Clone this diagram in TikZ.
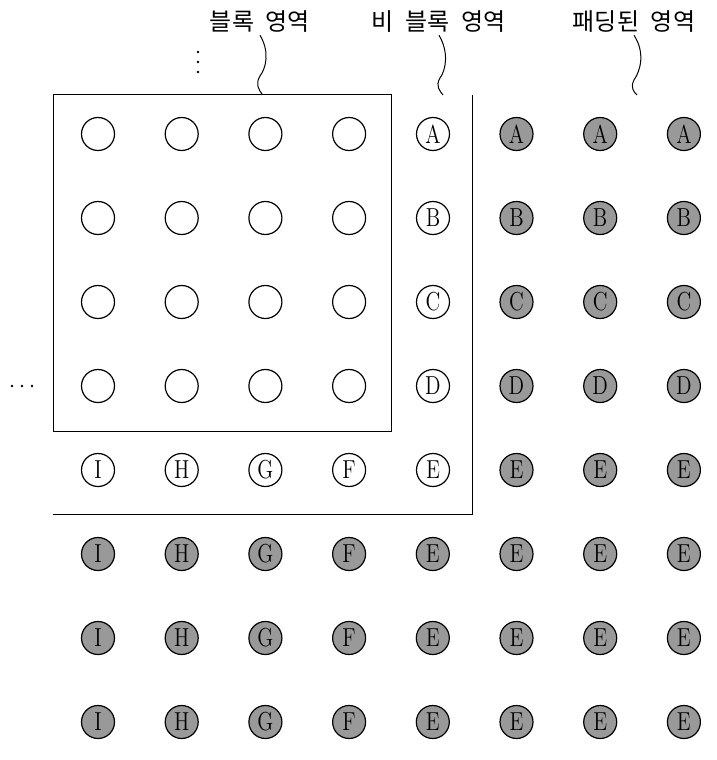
\documentclass[tikz,border=0pt]{standalone}
\usepackage{fontspec}
\newfontfamily\kr[WordSpace=2.2]{Noto Sans CJK KR}
\usetikzlibrary{positioning}
\definecolor{PadGray}{gray}{0.6}
\newcommand{\ltr}[1]{\scalebox{0.8}[1]{#1}}

\begin{document}
\begin{tikzpicture}[x=0.5pt, y=-0.5pt,
    dot/.style={circle, draw, line width=0.6pt, minimum size=16.5pt, inner sep=0pt, font=\fontsize{13}{15}\selectfont},
    padded/.style={dot, fill=PadGray},
    region/.style={font=\kr\fontsize{12}{14}\selectfont, inner sep=1pt}]
    \useasboundingbox (0,0) rectangle (717,760);

    % Zonas
    \draw[line width=0.5pt] (53,94) rectangle (391,431);
    \draw[line width=0.5pt] (472,95) -- (472,514) -- (53,514);

    % Nodos del bloque
    \foreach \r in {1,...,4}
        \foreach \c in {1,...,4}
            \node[dot] (c\r\c) at ({98+83.7*(\c-1)},{134+84*(\r-1)}) {};

    % Nodos fuera del bloque
    \foreach \r/\l in {1/A,2/B,3/C,4/D,5/E}
        \node[dot] (c\r5) at (433,{134+84*(\r-1)}) {\ltr{\l}};
    \foreach \c/\l in {1/I,2/H,3/G,4/F}
        \node[dot] (c5\c) at ({98+83.7*(\c-1)},470) {\ltr{\l}};

    % Nodos de relleno
    \foreach \r/\l in {1/A,2/B,3/C,4/D,5/E}
        \foreach \c in {6,7,8}
            \node[padded] (c\r\c) at ({98+83.7*(\c-1)},{134+84*(\r-1)}) {\ltr{\l}};
    \foreach \r in {6,7,8}
        \foreach \c/\l in {1/I,2/H,3/G,4/F,5/E,6/E,7/E,8/E}
            \node[padded] (c\r\c) at ({98+83.7*(\c-1)},{134+84*(\r-1)}) {\ltr{\l}};

    % Puntos suspensivos
    \foreach \y in {52,62,72} \fill (198,\y) circle (0.7pt);
    \foreach \x in {12,22,32} \fill (\x,386) circle (0.7pt);

    % Etiquetas
    \node[region] (lblBlock) at (260,22) {블록 영역};
    \node[region] (lblNon) at (439,22) {비 블록 영역};
    \node[region] (lblPad) at (634,22) {패딩된 영역};
    \coordinate (blkTop) at (262,94);
    \coordinate (nonTop) at (443,95);
    \coordinate (padTop) at (637,95);

    \draw[line width=0.5pt] (lblBlock.south) .. controls (270,52) and (266,68) .. (260,76) .. controls (255,84) and (259,90) .. (blkTop);
    \draw[line width=0.5pt] (lblNon.south) .. controls (449,52) and (446,70) .. (440,78) .. controls (435,86) and (440,91) .. (nonTop);
    \draw[line width=0.5pt] (lblPad.south) .. controls (645,52) and (641,70) .. (634,80) .. controls (630,88) and (634,92) .. (padTop);
\end{tikzpicture}
\end{document}
